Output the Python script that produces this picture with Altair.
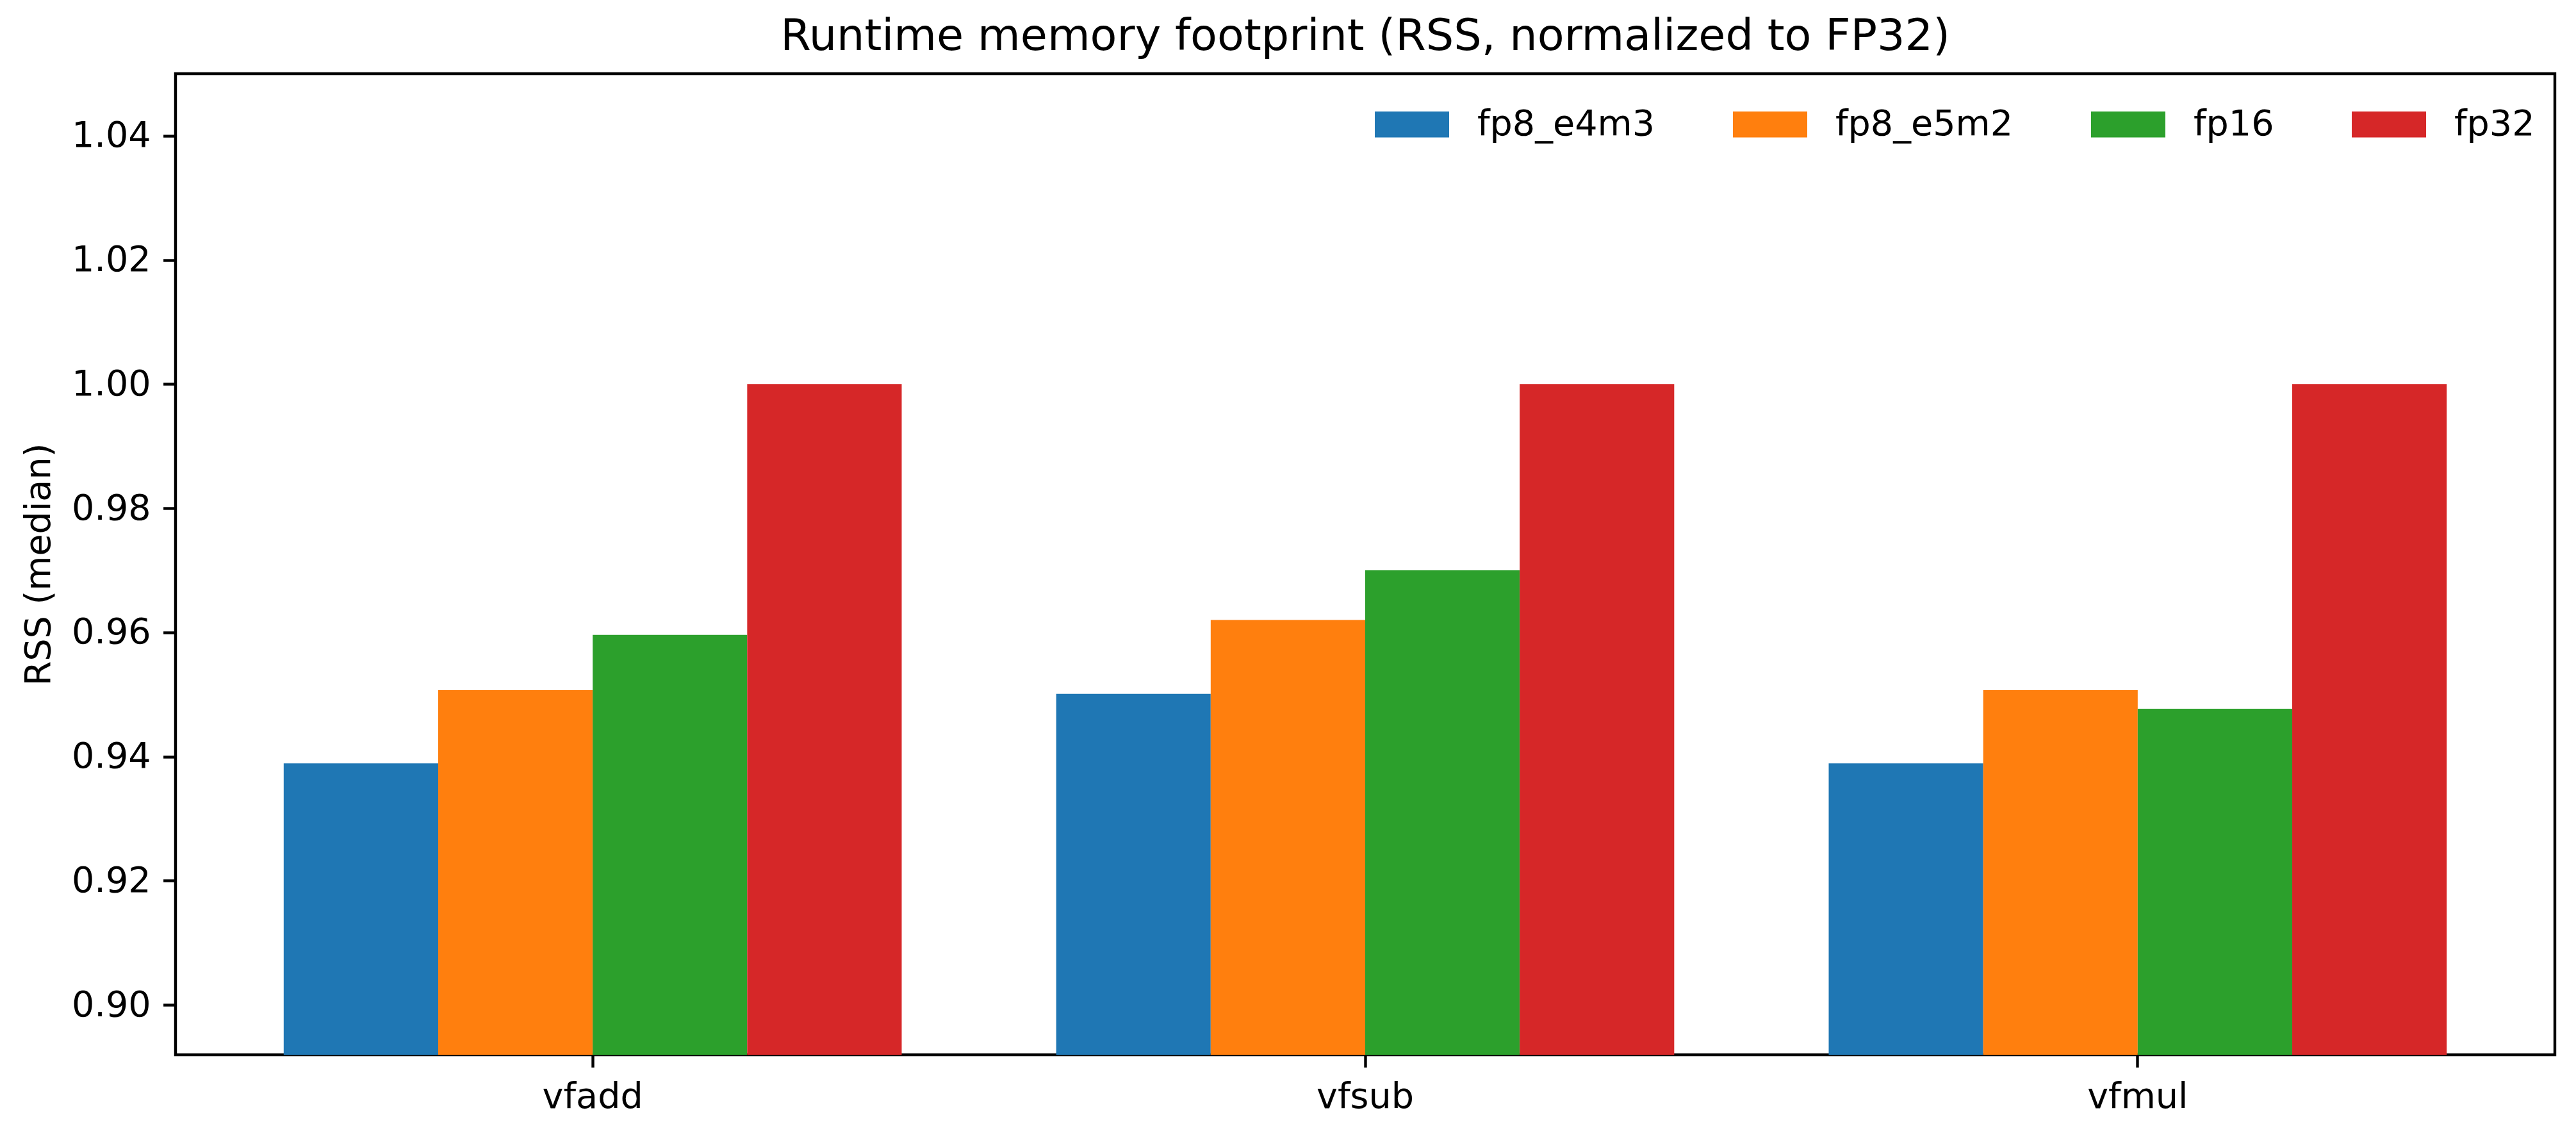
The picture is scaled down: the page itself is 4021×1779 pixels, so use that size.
import altair as alt
import pandas as pd

ops = ["vfadd", "vfsub", "vfmul"]
formats = ["fp8_e4m3", "fp8_e5m2", "fp16", "fp32"]
fp8_e4m3 = [0.9389, 0.9501, 0.9389]
fp8_e5m2 = [0.9507, 0.9620, 0.9507]
fp16 = [0.9596, 0.9700, 0.9477]
fp32 = [1.0, 1.0, 1.0]
colors = ["#1f77b4", "#ff7f0e", "#2ca02c", "#d62728"]
y_ticks = [0.90, 0.92, 0.94, 0.96, 0.98, 1.00, 1.02, 1.04]

series = [fp8_e4m3, fp8_e5m2, fp16, fp32]
rows = []
for fmt, vals in zip(formats, series):
    for op, v in zip(ops, vals):
        rows.append({"op": op, "format": fmt, "rss": v})
df = pd.DataFrame(rows)

all_vals = [v for s in series for v in s]
ymin = min(all_vals) * 0.95
ymax = max(all_vals) * 1.05

FONT = "DejaVu Sans"

chart = alt.Chart(df).mark_bar(clip=True).encode(
    x=alt.X("op:N", sort=ops,
            scale=alt.Scale(paddingInner=0.2, paddingOuter=0.14),
            axis=alt.Axis(title=None, labelAngle=0, bandPosition=0.5)),
    xOffset=alt.XOffset("format:N", sort=formats,
                        scale=alt.Scale(paddingInner=0, paddingOuter=0)),
    y=alt.Y("rss:Q",
            scale=alt.Scale(domain=[ymin, ymax], nice=False, zero=False),
            axis=alt.Axis(values=y_ticks, format=".2f", title="RSS (median)",
                          grid=False, titlePadding=22)),
    color=alt.Color("format:N", sort=formats,
                    scale=alt.Scale(domain=formats, range=colors),
                    legend=alt.Legend(title=None, orient="none", legendX=1872, legendY=21,
                                      direction="horizontal",
                                      symbolType="M-1,-0.35L1,-0.35L1,0.35L-1,0.35Z",
                                      symbolSize=13456, symbolStrokeWidth=0,
                                      symbolOpacity=1, labelLimit=0,
                                      labelFontSize=55.6, labelFont=FONT,
                                      labelColor="black", labelOffset=44,
                                      columnPadding=121, padding=0)),
).properties(
    width=3714,
    height=1531,
    title=alt.TitleParams("Runtime memory footprint (RSS, normalized to FP32)",
                          font=FONT, fontSize=68.5, fontWeight="normal",
                          color="black", anchor="middle", frame="group",
                          offset=23),
    padding={"left": 266, "top": 107, "right": 25, "bottom": 125},
    autosize=alt.AutoSizeParams(type="none"),
    background="white",
).configure_axis(
    domain=False,
    tickColor="black", tickWidth=4.4, tickSize=19.4,
    labelPadding=19.4, labelFontSize=55.6, labelFont=FONT, labelColor="black",
    titleFontSize=55.6, titleFont=FONT, titleFontWeight="normal", titleColor="black",
).configure_view(
    stroke="black", strokeWidth=4.4
)

chart.save("out.html", embed_options={"renderer": "svg", "actions": False})
